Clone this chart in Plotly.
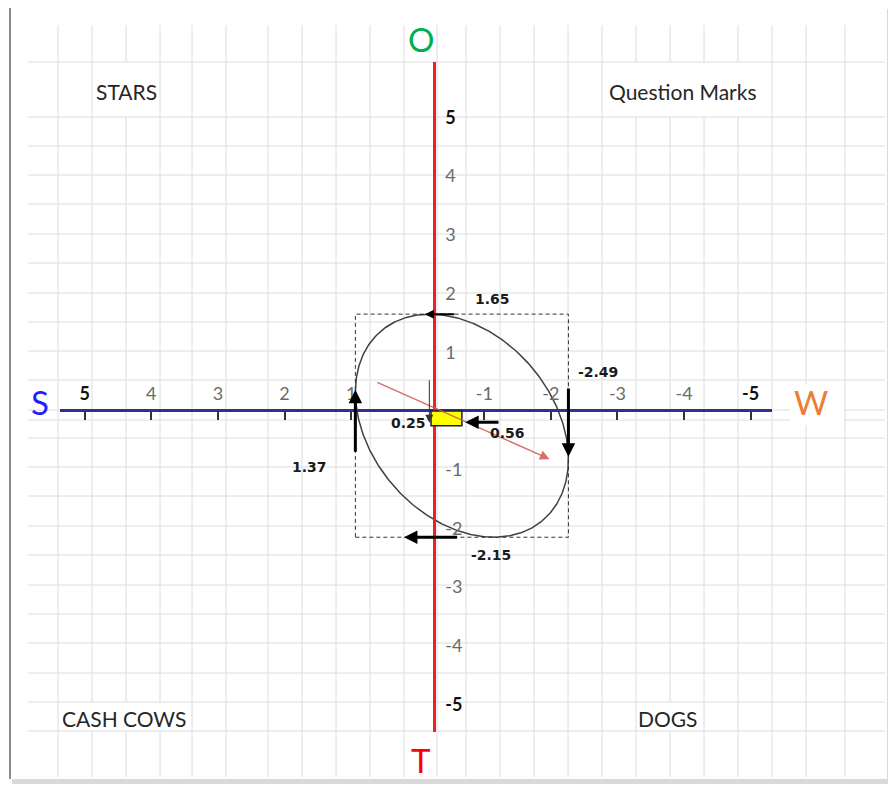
import numpy as np
import plotly.graph_objects as go

# ---------------- data ----------------
tick_vals = [5, 4, 3, 2, 1, -1, -2, -3, -4, -5]
tick_text = ["5", "4", "3", "2", "1", "-1", "-2", "-3", "-4", "-5"]
box_x = [1.37, -2.49]          # strength (left) / weakness (right)
box_y = [1.65, -2.15]          # opportunity (top) / threat (bottom)
vector_xy = [-0.56, -0.25]     # resulting direction vector
quadrants = ["STARS", "Question Marks", "CASH COWS", "DOGS"]
poles = ["O", "T", "S", "W"]
ellipse_phase_cos = 0.3        # tilt of the inscribed ellipse

# ---------------- layout helpers ----------------
OFF = 8                        # page body margin
W, H = 896 - OFF, 789 - OFF
def px(x):
    return (x - OFF) / W
def py(y):
    return 1 - (y - OFF) / H

FONT = "Lato"
GRAY = "#6a6a6a"

fig = go.Figure()

# inscribed ellipse (centre = direction vector, touches the dashed box)
cx, cy = (box_x[0] + box_x[1]) / 2, (box_y[0] + box_y[1]) / 2
A, B = (box_x[0] - box_x[1]) / 2, (box_y[0] - box_y[1]) / 2
d = np.arccos(ellipse_phase_cos)
t = np.linspace(0, 2 * np.pi, 400)
fig.add_trace(go.Scatter(x=cx + A * np.cos(t), y=cy + B * np.cos(t - d),
                         xaxis="x2", yaxis="y", mode="lines",
                         line=dict(color="#404040", width=1.5),
                         hoverinfo="skip", showlegend=False))
fig.add_trace(go.Scatter(x=[], y=[], xaxis="x", yaxis="y", showlegend=False))

shapes = []
# frame shadow + white panel
shapes.append(dict(type="rect", xref="paper", yref="paper", x0=px(12), x1=px(891),
                   y0=py(784), y1=py(9), fillcolor="#d9d9d9", line=dict(width=0), layer="below"))
shapes.append(dict(type="rect", xref="paper", yref="paper", x0=px(10), x1=px(887),
                   y0=py(779), y1=py(6), fillcolor="white", line=dict(width=0), layer="below"))
# spreadsheet grid
grid_x = [58, 92, 126, 160, 192, 226, 268, 302, 336, 370, 404, 437, 466, 500,
          534, 568, 602, 636, 670, 704, 738, 772, 806, 845]
grid_y = [62, 117, 146, 175, 204, 234, 263, 293, 322, 351, 380, 410, 420, 438,
          467, 496, 526, 555, 585, 614, 643, 673, 702, 731]
merged = [((62, 117), {126, 636, 670, 704, 738}), ((702, 731), {92, 126, 160, 670})]
GRID = "#dcdcdc"
for gx in grid_x:
    segs = [(25, 777)]
    for (y0, y1), xs in merged:
        if gx in xs:
            new = []
            for a, b in segs:
                if a < y0 < b:
                    new += [(a, y0), (y1, b)]
                else:
                    new.append((a, b))
            segs = new
    for a, b in segs:
        shapes.append(dict(type="line", xref="paper", yref="paper", x0=px(gx), x1=px(gx),
                           y0=py(a), y1=py(b), line=dict(color=GRID, width=1), layer="below"))
for gy in grid_y:
    shapes.append(dict(type="line", xref="paper", yref="paper", x0=px(28), x1=px(885),
                       y0=py(gy), y1=py(gy), line=dict(color=GRID, width=1), layer="below"))
# white box behind W
shapes.append(dict(type="rect", xref="paper", yref="paper", x0=px(790), x1=px(844),
                   y0=py(425), y1=py(384), fillcolor="white", line=dict(width=0), layer="below"))
# frame left border
shapes.append(dict(type="line", xref="paper", yref="paper", x0=px(10), x1=px(10),
                   y0=py(8), y1=py(779), line=dict(color="#8a8a8a", width=2)))

# dashed bounding box
shapes.append(dict(type="rect", xref="x2", yref="y", x0=box_x[0], x1=box_x[1],
                   y0=box_y[1], y1=box_y[0], line=dict(color="#333", width=1, dash="4px,3px")))
# yellow vector rectangle
shapes.append(dict(type="rect", xref="x2", yref="y", x0=0, x1=vector_xy[0],
                   y0=0, y1=vector_xy[1], fillcolor="#FFFF00",
                   line=dict(color="#1a1a40", width=1.5)))

annotations = []
def arrow(x, y, ax, ay, color="black", width=3, size=0.9):
    annotations.append(dict(x=x, y=y, ax=ax, ay=ay, xref="x2", yref="y", axref="x2", ayref="y",
                            text="", showarrow=True, arrowhead=2, arrowsize=size,
                            arrowwidth=width, arrowcolor=color))

# direction arrow along the vector
arrow(-2.15, -0.82, 1.0, 0.5, color="rgba(205,90,85,0.85)", width=1.5, size=1.3)
# box-edge arrows
arrow(box_x[0], 0.36, box_x[0], -0.72)
arrow(box_x[1], -0.78, box_x[1], 0.41)
arrow(0.11, box_y[0], -0.45, box_y[0], width=2)
arrow(0.49, box_y[1], -0.5, box_y[1])
# component arrows
arrow(0.03, -0.2, 0.03, 0.55, color="#333", width=1, size=1.6)
arrow(-0.62, -0.19, -1.25, -0.19)

def label(txt, x, y, font):
    annotations.append(dict(x=px(x), y=py(y), xref="paper", yref="paper", text=txt,
                            xanchor="center", yanchor="middle", showarrow=False, font=font))

# value labels
VAL_FONT = dict(family="DejaVu Sans", size=14, color="#1a1a1a")
for txt, x, y in [("1.65", 492, 299), ("-2.49", 598, 372), ("1.37", 309, 467),
                  ("0.25", 408, 423), ("0.56", 507, 433), ("-2.15", 491, 555)]:
    label(f"<b>{txt}</b>", x, y, VAL_FONT)

# quadrant labels
QF = dict(family=FONT, size=21, color="#262626")
for txt, x, y in zip(quadrants, [127, 683, 124, 668], [91, 91, 718, 718]):
    label(txt, x, y, QF)

# pole letters
for txt, x, y, c in zip(poles, [421, 421, 40, 811], [39, 760, 402, 402],
                        ["#00B050", "#FF0000", "#1F1FFF", "#ED7D31"]):
    label(txt, x, y, dict(family=FONT, size=33, color=c))

def styled(labels, dark):
    return [f"<span style='color:#111'><b>{l}</b></span>" if l in dark else l for l in labels]

fig.update_layout(
    width=W, height=H, autosize=False,
    margin=dict(l=0, r=0, t=0, b=0),
    paper_bgcolor="white", plot_bgcolor="rgba(0,0,0,0)",
    showlegend=False,
    xaxis=dict(domain=[px(60), px(772)], range=[5.371, -5.320], anchor="free",
               position=py(410), side="top", showline=True, linecolor="#2E3192", linewidth=2.5,
               showgrid=False, zeroline=False, ticks="inside", ticklen=8,
               tickwidth=1.5, tickcolor="#333", ticklabelstandoff=2,
               tickvals=tick_vals, ticktext=styled(tick_text, {"5", "-5"}),
               tickfont=dict(family=FONT, size=18, color=GRAY), fixedrange=True),
    xaxis2=dict(overlaying="x", range=[6.721, -6.178], visible=False, anchor="y"),
    yaxis=dict(domain=[py(732), py(62)], range=[-5.468, 5.945], anchor="free",
               position=px(434), side="right", showline=True, linecolor="#F02020",
               linewidth=2.5, showgrid=False, zeroline=False, ticks="",
               ticklabelstandoff=6,
               tickvals=tick_vals, ticktext=styled(tick_text, {"5", "-5"}),
               tickfont=dict(family=FONT, size=18, color=GRAY)),
    shapes=shapes, annotations=annotations,
)

fig.write_html("out.html")
